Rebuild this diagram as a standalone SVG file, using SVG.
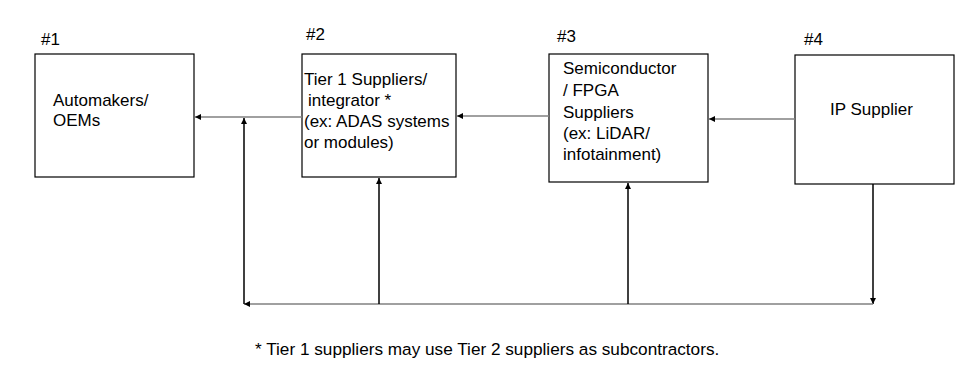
<svg xmlns="http://www.w3.org/2000/svg" width="977" height="381" viewBox="0 0 977 381">
<style>
.box{fill:#fff;stroke:#000;stroke-width:1.2}
.t{font-family:"Liberation Sans",Arial,sans-serif;font-size:17px;fill:#000}
.num{font-family:"Liberation Sans",Arial,sans-serif;font-size:17px;fill:#000}
.foot{font-family:"Liberation Sans",Arial,sans-serif;font-size:17.2px;fill:#000}
.h{stroke:#808080;stroke-width:1.5;fill:none}
.v{stroke:#000;stroke-width:1.5;fill:none}
</style>
<defs>
<marker id="ah" markerUnits="userSpaceOnUse" markerWidth="8" markerHeight="8" refX="7" refY="4" orient="auto">
<path d="M1,1 L7,4 L1,7 Z" fill="#000"/>
</marker>
</defs>
<rect width="977" height="381" fill="#fff"/>
<g id="node1">
<rect class="box" x="35" y="54" width="159" height="123"/>
<text class="num" x="41" y="45">#1</text>
<text class="t" x="53" y="106">Automakers/</text>
<text class="t" x="53" y="126">OEMs</text>
</g>
<g id="node2">
<rect class="box" x="302" y="54" width="154" height="123"/>
<text class="num" x="306" y="40">#2</text>
<text class="t" x="304" y="85">Tier 1 Suppliers/</text>
<text class="t" x="308" y="106">integrator *</text>
<text class="t" x="304" y="127">(ex: ADAS systems</text>
<text class="t" x="304" y="148">or modules)</text>
</g>
<g id="node3">
<rect class="box" x="549" y="54" width="159" height="128"/>
<text class="num" x="557" y="42">#3</text>
<text class="t" x="563" y="74">Semiconductor</text>
<text class="t" x="563" y="96">/ FPGA</text>
<text class="t" x="563" y="118">Suppliers</text>
<text class="t" x="563" y="139">(ex: LiDAR/</text>
<text class="t" x="563" y="160">infotainment)</text>
</g>
<g id="node4">
<rect class="box" x="795" y="55" width="159" height="129"/>
<text class="num" x="804" y="45">#4</text>
<text class="t" x="830" y="115">IP Supplier</text>
</g>
<g id="connectors">
<line class="h" x1="302" y1="117" x2="195" y2="117" marker-end="url(#ah)"/>
<line class="h" x1="549" y1="116" x2="457" y2="116" marker-end="url(#ah)"/>
<line class="h" x1="795" y1="119" x2="709" y2="119" marker-end="url(#ah)"/>
<line class="v" x1="873" y1="184" x2="873" y2="304" marker-end="url(#ah)"/>
<line class="h" x1="873" y1="304" x2="244" y2="304" marker-end="url(#ah)"/>
<line class="v" x1="244" y1="304" x2="244" y2="118" stroke-width="2" marker-end="url(#ah)"/>
<line class="v" x1="379" y1="304" x2="379" y2="178" marker-end="url(#ah)"/>
<line class="v" x1="628" y1="304" x2="628" y2="183" marker-end="url(#ah)"/>
</g>
<text class="foot" x="255" y="355">* Tier 1 suppliers may use Tier 2 suppliers as subcontractors.</text>
</svg>
